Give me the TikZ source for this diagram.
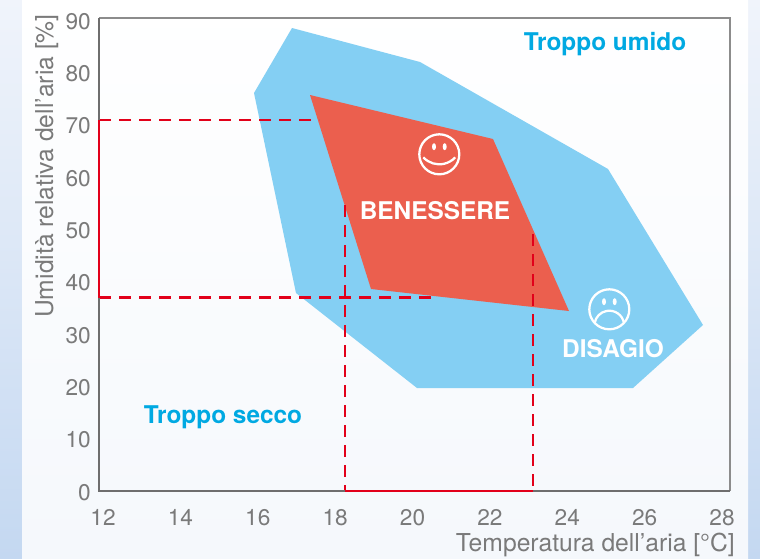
\documentclass[tikz,border=0pt]{standalone}
\usepackage{fontspec}
\setmainfont{TeX Gyre Heros}
\usetikzlibrary{positioning}

\definecolor{bgtop}{HTML}{F0F4FB}
\definecolor{bgbot}{HTML}{C4D8F1}
\definecolor{panelbot}{HTML}{F5F8FC}
\definecolor{skyzone}{HTML}{84CFF3}
\definecolor{comfortzone}{HTML}{EB5F4E}
\definecolor{limitred}{HTML}{E2001A}
\definecolor{axisgray}{HTML}{6E6E6E}
\definecolor{framegray}{HTML}{8C8C8C}
\definecolor{labelgray}{HTML}{7A7A7A}
\definecolor{zonetext}{HTML}{00A9E2}

\tikzset{
  zone/.style={fill=skyzone},
  comfort/.style={fill=comfortzone},
  limit/.style={limitred, line width=1.9pt, dash pattern=on 9pt off 6pt},
  bound/.style={limitred, line width=2.2pt},
  ticklabel/.style={labelgray, font=\fontsize{17}{20}\selectfont, inner sep=0pt},
  axistitle/.style={labelgray, font=\fontsize{18.5}{22}\selectfont, inner sep=0pt},
  tag/.style={font=\fontsize{18.3}{22}\selectfont\bfseries, inner sep=0pt, anchor=base},
  face/.style={white, line width=1.7pt},
}

\begin{document}
\begin{tikzpicture}[x=0.75pt, y=-0.75pt]
  \useasboundingbox (0,0) rectangle (760,558);
  % background
  \shade[top color=bgtop, bottom color=bgbot] (0,0) rectangle (760,558);
  \shade[top color=white, bottom color=panelbot] (22,0) rectangle (748,558);

  % zones
  \fill[zone] (292,28) -- (420,62) -- (608,169) -- (703,325) -- (633,388)
    -- (417,388) -- (296,293) -- (254,93) -- cycle;
  \fill[comfort] (310,95) -- (493,139) -- (569,311) -- (371,289) -- cycle;

  % limits
  \draw[limit] (99,120) -- (319,120);
  \draw[limit] (99,297.5) -- (433,297.5);
  \draw[limit] (345,205) -- (345,491);
  \draw[limit] (533,234) -- (533,491);

  % frame and axes
  \draw[framegray, line width=1.1pt] (99,18) -- (730,18) -- (730,491);
  \draw[axisgray, line width=2.2pt] (99,18) -- (99,491) -- (730,491);
  \draw[bound] (99,120) -- (99,297.5);
  \draw[bound] (345,491) -- (533,491);

  % tick labels
  \foreach \v in {0,10,...,90}
    \node[ticklabel, anchor=base east] at (91,{500-5.23*\v}) {\v};
  \foreach \t in {12,14,...,28}
    \node[ticklabel, anchor=base] at ({103+38.69*(\t-12)},525) {\t};

  % axis titles
  \node[axistitle, anchor=base, rotate=90] (ytitle) at (53,166) {Umidità relativa dell’aria [\%]};
  \node[axistitle, anchor=base east] (xtitle) at (735,551) {Temperatura dell’aria [°C]};

  % zone labels
  \node[tag, zonetext] (wet) at (605,50.5) {Troppo umido};
  \node[tag, zonetext] (dry) at (223,423) {Troppo secco};
  \node[tag, white] (ok) at (435,219.3) {BENESSERE};
  \node[tag, white] (bad) at (613,357) {DISAGIO};

  % faces
  \begin{scope}[shift={(439.3,154.3)}, yscale=-1]
    \draw[face] (0,0) circle[radius=20];
    \fill[white] (-5.3,7.6) ellipse[x radius=2, y radius=3.5];
    \fill[white] (5.4,7.6) ellipse[x radius=2, y radius=3.5];
    \draw[face] (0,11.8) ++(223:21.8) arc[start angle=223, end angle=317, radius=21.8];
  \end{scope}
  \begin{scope}[shift={(609.3,309.3)}, yscale=-1]
    \draw[face] (0,0) circle[radius=20];
    \fill[white] (-5.3,7.6) ellipse[x radius=2, y radius=3.5];
    \fill[white] (5.4,7.6) ellipse[x radius=2, y radius=3.5];
    \draw[face] (0,-16.3) ++(10:14.9) arc[start angle=10, end angle=170, radius=14.9];
  \end{scope}
\end{tikzpicture}
\end{document}
